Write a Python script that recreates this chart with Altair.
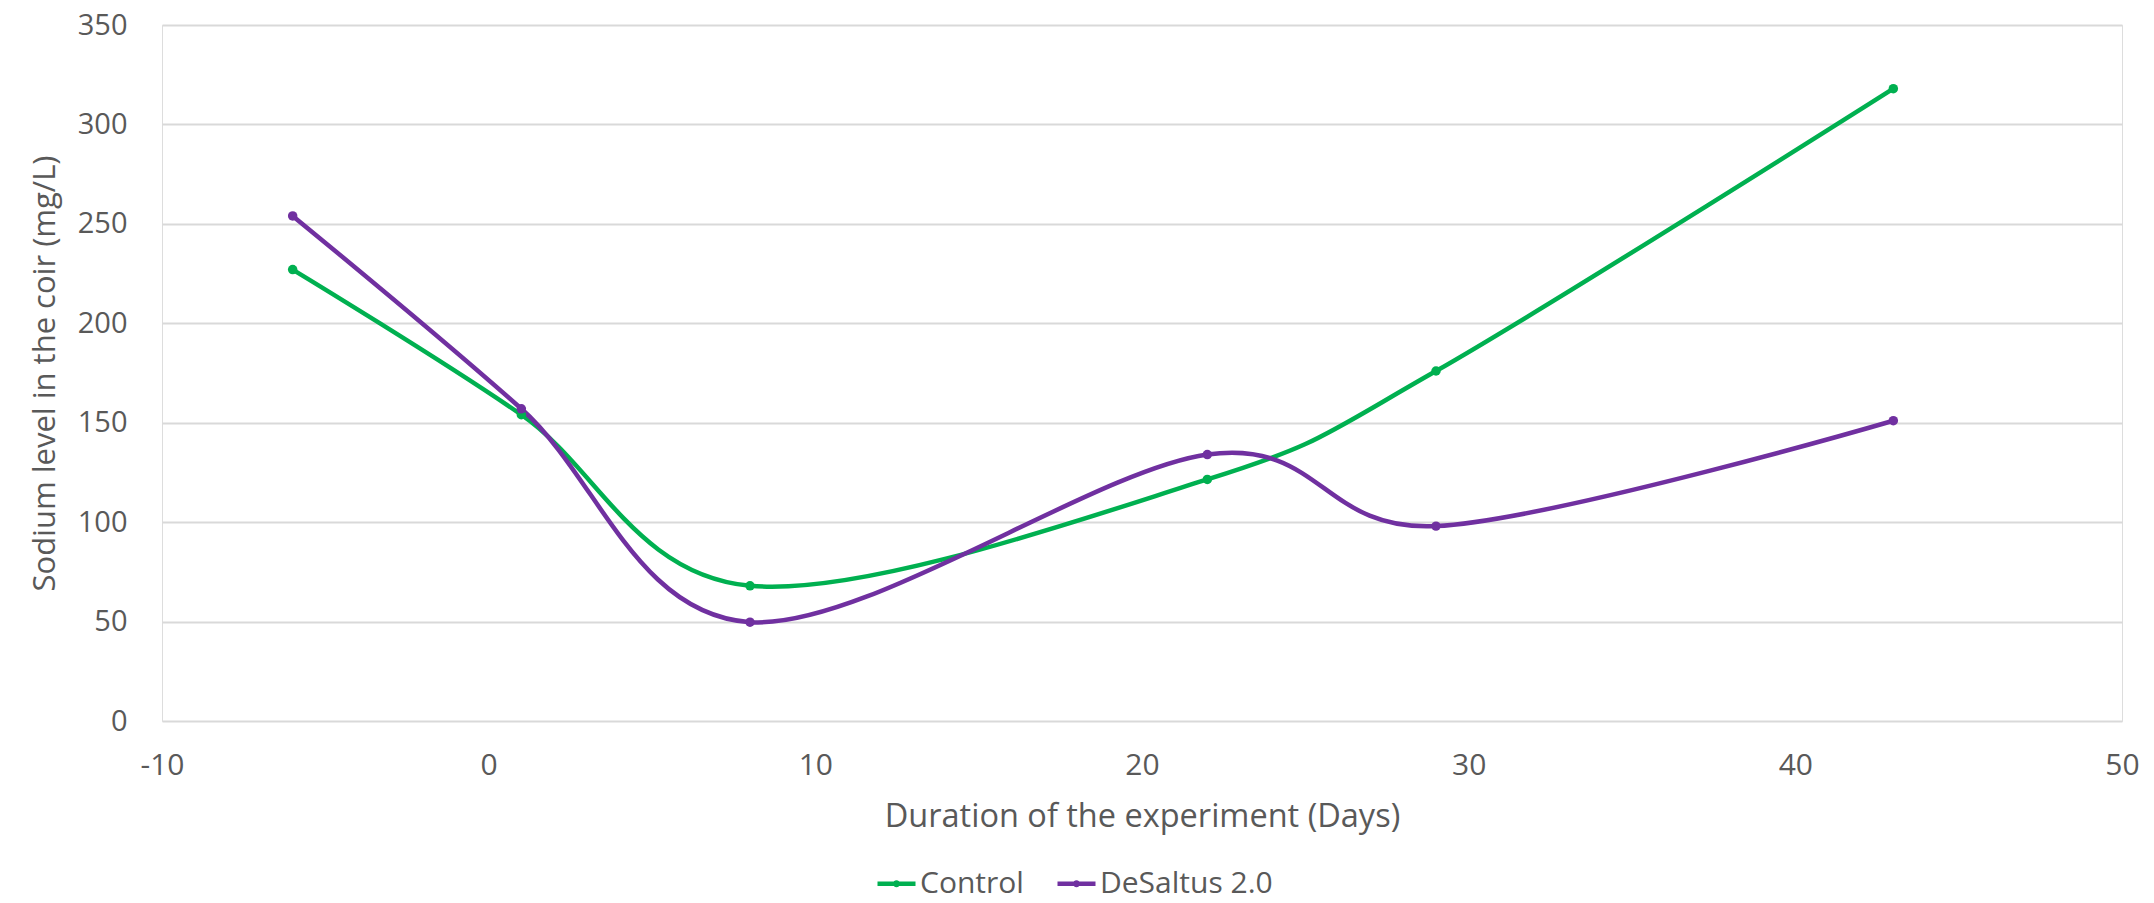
import altair as alt
import pandas as pd

days = [-6, 1, 8, 22, 29, 43]
control = [227, 154, 68, 121.5, 176, 318]
desaltus = [254, 157, 49.7, 134, 98, 151]
series_names = ["Control", "DeSaltus 2.0"]
series_colors = ["#00B050", "#7030A0"]
x_ticks = [-10, 0, 10, 20, 30, 40, 50]
y_ticks = [0, 50, 100, 150, 200, 250, 300, 350]

rows = []
for d, v in zip(days, control):
    rows.append({"Day": d, "Sodium": v, "Series": series_names[0]})
for d, v in zip(days, desaltus):
    rows.append({"Day": d, "Sodium": v, "Series": series_names[1]})
df = pd.DataFrame(rows)

FONT = "Open Sans"
TXT = "#595959"

legend_symbol = "M-1,0H1M0.07,0A0.07,0.07 0 1,1 -0.07,0A0.07,0.07 0 1,1 0.07,0"

x_enc = alt.X(
    "Day:Q",
    scale=alt.Scale(domain=[-10, 50], nice=False, zero=False),
    axis=alt.Axis(
        values=x_ticks, grid=False, domain=False, ticks=False, tickSize=0,
        labelFont=FONT, labelFontSize=30, labelColor=TXT, labelPadding=44,
        labelBaseline="middle", labelFlush=False,
        labelExpr="'' + datum.value",
        title="Duration of the experiment (Days)", titleFont=FONT,
        titleFontSize=32.5, titleFontWeight="normal", titleColor=TXT,
        titleX=980, titleY=95, titleAnchor="middle", titleAlign="center",
        titleBaseline="middle",
    ),
)
y_enc = alt.Y(
    "Sodium:Q",
    scale=alt.Scale(domain=[0, 350], nice=False),
    axis=alt.Axis(
        values=y_ticks, grid=True, gridColor="#D9D9D9", gridWidth=1.8,
        domain=False, ticks=False, tickSize=0,
        labelFont=FONT, labelFontSize=29, labelColor=TXT, labelPadding=35,
        title="Sodium level in the coir (mg/L)", titleFont=FONT,
        titleFontSize=31, titleFontWeight="normal", titleColor=TXT,
        titleAngle=270, titleX=-117, titleY=348, titleAlign="center",
        titleBaseline="middle",
    ),
)
color_enc = alt.Color(
    "Series:N",
    scale=alt.Scale(domain=series_names, range=series_colors),
    legend=alt.Legend(
        title=None, orient="none", direction="horizontal",
        legendX=713, legendY=837,
        symbolType=legend_symbol, symbolSize=1444, symbolStrokeWidth=4.5,
        labelFont=FONT, labelFontSize=30, labelColor=TXT, labelOffset=2,
        labelLimit=0, columnPadding=24,
    ),
)

base = alt.Chart(df)
lines = base.mark_line(interpolate="cardinal", strokeWidth=4.5).encode(
    x=x_enc, y=y_enc, color=color_enc
)
points = base.mark_point(filled=True, size=90, opacity=1).encode(
    x="Day:Q", y="Sodium:Q",
    color=alt.Color("Series:N", scale=alt.Scale(domain=series_names, range=series_colors), legend=None),
)

chart = (
    alt.layer(lines, points)
    .properties(
        width=1960, height=696,
        autosize=alt.AutoSizeParams(type="none"),
        padding={"left": 154, "top": 17, "right": 20, "bottom": 174},
    )
    .configure_view(stroke=None)
    .configure(background="white")
)

chart.save("out.html", embed_options={"renderer": "svg", "actions": False})
